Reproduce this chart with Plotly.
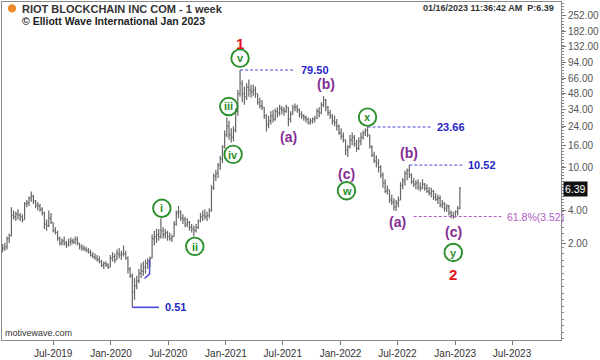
import math
import datetime as dt
import plotly.graph_objects as go

# ---------------- data (weekly bars, RIOT) ----------------
first_week = dt.date(2019, 1, 21)
first_open = 1.75

high = [1.95, 2.0, 2.3, 2.45, 4.3, 4.0, 3.9, 4.1, 3.8, 3.7,
        4.8, 5.0, 5.4, 6.0, 5.6, 5.0, 4.8, 4.6, 4.3, 3.9,
        3.3, 4.0, 3.8, 3.1, 2.8, 2.6, 2.3, 2.2, 2.3, 2.1,
        2.2, 2.25, 2.2, 2.3, 2.3, 2.0, 1.95, 1.9, 1.85, 1.8,
        1.75, 1.65, 1.6, 1.55, 1.5, 1.4, 1.35, 1.35, 1.3, 1.55,
        1.65, 1.6, 1.75, 1.8, 1.7, 1.9, 1.7, 1.5, 1.2, 1.05,
        0.95, 1.0, 1.15, 1.3, 1.35, 1.4, 1.45, 1.5, 2.4, 2.6,
        2.7, 2.7, 3.4, 2.8, 2.7, 2.6, 2.5, 2.4, 3.2, 4.0,
        4.4, 4.0, 3.7, 3.5, 3.4, 3.2, 3.0, 2.9, 3.0, 3.3,
        3.8, 4.0, 4.1, 3.9, 4.2, 6.9, 8.8, 9.5, 11.0, 12.8,
        16, 22, 29, 27, 23, 24, 35, 52, 79.5, 64,
        56, 60, 65, 58, 58, 56, 48, 44, 42, 36,
        31, 30, 33, 34, 35, 36, 38, 37, 36, 38,
        36, 33, 38, 39, 38, 35, 33, 31, 30, 29,
        28.5, 29, 30, 35, 36, 40, 45.6, 43, 37, 34,
        31, 30, 28, 25, 23, 21, 18, 16, 20, 21,
        20, 18, 19, 21, 22, 23, 23.66, 20, 16, 14,
        13, 12, 10.5, 9, 7.8, 6.8, 6.2, 5.6, 5.2, 5.0,
        5.4, 7.3, 8.0, 9.3, 9.8, 10.52, 8.8, 8.0, 7.6, 7.8,
        7.3, 7.8, 7.2, 7.0, 6.6, 6.5, 6.2, 5.8, 5.6, 5.5,
        5.0, 4.8, 4.6, 4.5, 4.0, 3.9, 4.0, 4.4, 6.6]

low = [1.65, 1.7, 1.75, 2.0, 2.3, 3.3, 3.2, 3.3, 3.2, 3.1,
       3.3, 4.3, 4.4, 4.8, 4.6, 4.2, 4.0, 3.9, 3.6, 2.7,
       2.6, 2.8, 3.0, 2.5, 2.4, 2.1, 1.9, 1.9, 1.9, 1.8,
       1.85, 1.9, 1.95, 1.95, 1.9, 1.75, 1.7, 1.7, 1.65, 1.6,
       1.5, 1.45, 1.4, 1.35, 1.3, 1.2, 1.15, 1.2, 1.15, 1.2,
       1.35, 1.3, 1.4, 1.45, 1.4, 1.5, 1.4, 1.05, 0.95, 0.51,
       0.6, 0.75, 0.85, 0.95, 1.0, 1.05, 1.15, 1.2, 1.45, 1.9,
       2.0, 2.1, 2.2, 2.2, 2.2, 2.1, 2.1, 2.05, 2.3, 2.9,
       3.4, 3.2, 3.0, 2.8, 2.8, 2.6, 2.5, 2.3, 2.5, 2.7,
       3.1, 3.2, 3.3, 3.2, 3.4, 3.9, 6.2, 7.5, 8.0, 9.5,
       11, 15, 19, 18, 17, 17.5, 21, 30, 45, 40,
       38, 42, 45, 44, 46, 44, 38, 35, 34, 28,
       21.5, 23, 25, 26, 27, 29, 30, 31, 30, 32,
       24, 26, 31, 33, 32, 29, 28, 27, 26, 25,
       25, 25.5, 26, 28, 29, 31, 36, 33, 30, 28,
       25, 24, 22, 20, 18, 17, 13, 12.5, 15, 16,
       15.5, 14, 14.5, 16, 18, 19.5, 19, 15, 12.5, 11,
       10, 9, 8, 6.5, 5.8, 5.6, 4.7, 4.5, 4.0, 3.95,
       4.3, 5.0, 6.3, 6.8, 7.6, 8.0, 7.0, 6.6, 6.3, 6.2,
       6.0, 6.3, 6.1, 5.8, 5.5, 5.3, 5.0, 4.9, 4.6, 4.3,
       4.2, 3.9, 3.9, 3.6, 3.4, 3.35, 3.45, 3.6, 4.1]

close = [1.8, 1.85, 2.2, 2.35, 3.6, 3.5, 3.7, 3.6, 3.5, 3.3,
         4.6, 4.7, 5.2, 5.4, 4.9, 4.5, 4.4, 4.1, 3.8, 3.0,
         2.9, 3.4, 3.1, 2.6, 2.5, 2.2, 2.0, 2.1, 2.0, 1.95,
         2.05, 2.1, 2.05, 2.15, 2.0, 1.85, 1.8, 1.75, 1.7, 1.65,
         1.55, 1.5, 1.45, 1.4, 1.35, 1.25, 1.3, 1.25, 1.2, 1.45,
         1.5, 1.4, 1.6, 1.55, 1.6, 1.6, 1.45, 1.15, 1.0, 0.7,
         0.8, 0.9, 1.05, 1.1, 1.2, 1.3, 1.35, 1.45, 2.2, 2.3,
         2.4, 2.3, 2.6, 2.4, 2.5, 2.3, 2.2, 2.3, 3.0, 3.8,
         3.9, 3.4, 3.3, 3.0, 3.1, 2.8, 2.7, 2.6, 2.8, 3.2,
         3.5, 3.6, 3.5, 3.6, 4.0, 6.5, 8.3, 8.8, 10.5, 12.0,
         15.5, 20, 24, 20, 19, 22, 33, 48, 60, 48,
         45, 55, 52, 50, 52, 48, 40, 37, 36, 30,
         25, 27, 30, 28, 33, 32, 35, 34, 33, 36,
         28, 31, 36, 36, 34, 31, 30, 29, 28, 26,
         27, 28, 28.5, 33, 32, 38, 42, 36, 32, 30,
         27, 26, 24, 21, 19.5, 18, 14.5, 15.5, 18, 19,
         16.5, 15, 17.5, 19, 21, 22, 20, 15.5, 13, 11.5,
         11, 10, 8.5, 7.2, 6.0, 6.2, 5.0, 4.8, 4.3, 4.7,
         5.0, 6.8, 7.5, 8.8, 9.4, 8.6, 7.4, 7.0, 7.2, 6.6,
         6.4, 7.0, 6.4, 6.0, 5.8, 6.0, 5.3, 5.1, 5.2, 4.5,
         4.6, 4.2, 4.4, 3.8, 3.6, 3.5, 3.9, 4.2, 6.39]

last_price = 6.39

y_tick_vals = [252, 182, 132, 94, 66, 48, 34, 24, 16, 10, 4, 2]
x_tick_dates = ["2019-07-01", "2020-01-01", "2020-07-01", "2021-01-01", "2021-07-01",
                "2022-01-01", "2022-07-01", "2023-01-01", "2023-07-01"]
x_tick_text = ["Jul-2019", "Jan-2020", "Jul-2020", "Jan-2021", "Jul-2021",
               "Jan-2022", "Jul-2022", "Jan-2023", "Jul-2023"]

# wave labels: (text, kind, bar index, anchor, yshift px, xshift px)
wave_labels = [
    ("1", "red", 108, "high", 27, 0),
    ("v", "circle", 108, "high", 12, 0),
    ("iii", "circle", 102, "high", 11, 2),
    ("iv", "circle", 104, "low", -12, 2),
    ("i", "circle", 72, "high", 10, 1),
    ("ii", "circle", 87, "low", -10, 1),
    ("(a)", "purple", 130, "low", -11, 0),
    ("(b)", "purple", 146, "high", 12, 2),
    ("(c)", "purple", 156, "low", -19, 1),
    ("w", "circle", 156, "low", -36, 1),
    ("x", "circle", 166, "high", 10, 0),
    ("(b)", "purple", 185, "high", 12, 0),
    ("(a)", "purple", 179, "low", -11, 1),
    ("(c)", "purple", 205, "low", -13, 0),
    ("y", "circle", 205, "low", -34, 0),
    ("2", "red", 205, "low", -56, 0),
]

# price level lines: (start bar, end date, price, label, style)
level_lines = [
    (108, "2021-08-09", 79.50, "<b>79.50</b>", "blue"),
    (166, "2022-10-17", 23.66, "<b>23.66</b>", "blue"),
    (185, "2023-01-24", 10.52, "<b>10.52</b>", "blue"),
    (187, "2023-05-28", 3.52, "61.8%(3.52)", "fib"),
    (59, "2020-06-02", 0.51, "<b>0.51</b>", "solid"),
]

blue_seg_dates = ["2020-04-17", "2020-05-03", "2020-05-03"]
blue_seg_prices = [0.94, 1.04, 1.40]

# ---------------- build ----------------
dates = [first_week + dt.timedelta(weeks=i) for i in range(len(close))]
opens = [first_open] + close[:-1]

Y_RANGE = [-0.5944, 2.529]
PLOT_H = 342
PX_PER_DECADE = PLOT_H / (Y_RANGE[1] - Y_RANGE[0])

GREEN = "#2b8f2b"
PURPLE = "#842c93"
RED = "#e3141c"
BLUE = "#2525c8"
LBLUE = "#4747d6"
FIB = "#b05cc4"
FONT = "Arial, Liberation Sans, sans-serif"

fig = go.Figure()
fig.add_trace(go.Ohlc(
    x=dates, open=opens, high=high, low=low, close=close,
    increasing_line_color="#666666", decreasing_line_color="#666666",
    line_width=1.2, tickwidth=0.45, hoverinfo="skip", showlegend=False))

shapes = []
annotations = []

for start_i, end_date, price, label, style in level_lines:
    col = {"blue": LBLUE, "fib": FIB, "solid": LBLUE}[style]
    tcol = {"blue": BLUE, "fib": FIB, "solid": BLUE}[style]
    dash = "solid" if style == "solid" else "3px,2px"
    width = 1.6 if style == "solid" else 1
    fig.add_trace(go.Scatter(
        x=[dates[start_i], end_date], y=[price, price], mode="lines",
        line=dict(color=col, width=width, dash=dash), hoverinfo="skip", showlegend=False))
    annotations.append(dict(
        x=end_date, y=math.log10(price), xref="x", yref="y", text=label,
        showarrow=False, xanchor="left", yanchor="middle", xshift=4,
        font=dict(family=FONT, size=11 if style != "fib" else 10.5, color=tcol)))

fig.add_trace(go.Scatter(x=blue_seg_dates, y=blue_seg_prices, mode="lines",
                         line=dict(color=LBLUE, width=1.4), hoverinfo="skip", showlegend=False))

circ_x, circ_y = [], []
for text, kind, idx, anchor, ys, xs in wave_labels:
    price = high[idx] if anchor == "high" else low[idx]
    d = dates[idx]
    if kind == "circle":
        circ_x.append(d + dt.timedelta(days=xs / 0.3152))
        circ_y.append(price * 10 ** (ys / PX_PER_DECADE))
        annotations.append(dict(x=d, y=math.log10(price), xref="x", yref="y", text="<b>%s</b>" % text,
                                showarrow=False, xshift=xs, yshift=ys, xanchor="center", yanchor="middle",
                                font=dict(family=FONT, size=11, color=GREEN)))
    else:
        col = RED if kind == "red" else PURPLE
        annotations.append(dict(x=d, y=math.log10(price), xref="x", yref="y", text="<b>%s</b>" % text,
                                showarrow=False, xshift=xs, yshift=ys, xanchor="center", yanchor="middle",
                                font=dict(family=FONT, size=15 if kind == "red" else 14, color=col)))

fig.add_trace(go.Scatter(x=circ_x, y=circ_y, mode="markers",
                         marker=dict(symbol="circle", size=17.5, color="rgba(255,255,255,0)",
                                     line=dict(color=GREEN, width=1.9)),
                         hoverinfo="skip", showlegend=False))

# header / footer texts (paper coords: plot area spans px 1..562 x 1..343)
def px(xp):
    return (xp - 1) / 561.0

def py(yp):
    return 1 - (yp - 1) / 342.0

shapes.append(dict(type="circle", xref="paper", yref="paper",
                   x0=px(6.8), x1=px(15.2), y0=py(11.7), y1=py(3.3),
                   line=dict(color="#f0892a", width=0), fillcolor="#f0892a"))
annotations += [
    dict(x=px(19), y=py(8), xref="paper", yref="paper", text="<b>RIOT BLOCKCHAIN INC COM - 1 week</b>",
         showarrow=False, xanchor="left", yanchor="middle", font=dict(family=FONT, size=11, color="#333")),
    dict(x=px(19), y=py(20.5), xref="paper", yref="paper", text="<b>© Elliott Wave International Jan 2023</b>",
         showarrow=False, xanchor="left", yanchor="middle", font=dict(family=FONT, size=10.5, color="#222")),
    dict(x=px(557), y=py(7), xref="paper", yref="paper", text="<b>01/16/2023 11:36:42 AM  P:6.39</b>",
         showarrow=False, xanchor="right", yanchor="middle", font=dict(family=FONT, size=9, color="#333")),
    dict(x=px(2), y=py(336), xref="paper", yref="paper", text="motivewave.com",
         showarrow=False, xanchor="left", yanchor="middle", font=dict(family=FONT, size=9, color="#333")),
    dict(x=1, y=math.log10(last_price), xref="paper", yref="y", text="%.2f" % last_price,
         showarrow=False, xanchor="left", yanchor="middle", xshift=2, bgcolor="#111", borderpad=1,
         font=dict(family=FONT, size=10.5, color="white")),
]

minor_vals = []
v = 0.26
while v < 340:
    minor_vals.append(round(v, 4))
    v *= 1.066 if v > 3.5 else 1.15

fig.update_layout(
    width=600, height=360, margin=dict(l=1, r=38, t=1, b=17),
    paper_bgcolor="white", plot_bgcolor="white", showlegend=False,
    font=dict(family=FONT, color="#333"),
    shapes=shapes, annotations=annotations,
    xaxis=dict(type="date", range=["2019-01-19", "2023-12-04"], tickvals=x_tick_dates, ticktext=x_tick_text,
               ticks="outside", ticklen=4, tickcolor="#777", showline=True, linecolor="#8a8a8a", linewidth=1,
               mirror=True, showgrid=False, zeroline=False, rangeslider=dict(visible=False),
               tickfont=dict(family=FONT, size=10, color="#333")),
    yaxis=dict(type="log", side="right", range=Y_RANGE,
               tickvals=y_tick_vals, ticktext=["%.2f" % t for t in y_tick_vals],
               ticks="outside", ticklen=4, tickcolor="#777", showline=True, linecolor="#8a8a8a", linewidth=1,
               mirror=True, showgrid=False, zeroline=False,
               tickfont=dict(family=FONT, size=10, color="#555"),
               minor=dict(tickvals=minor_vals, ticks="outside", ticklen=2, tickcolor="#888")),
)

fig.write_html("out.html", config={"displayModeBar": False})
